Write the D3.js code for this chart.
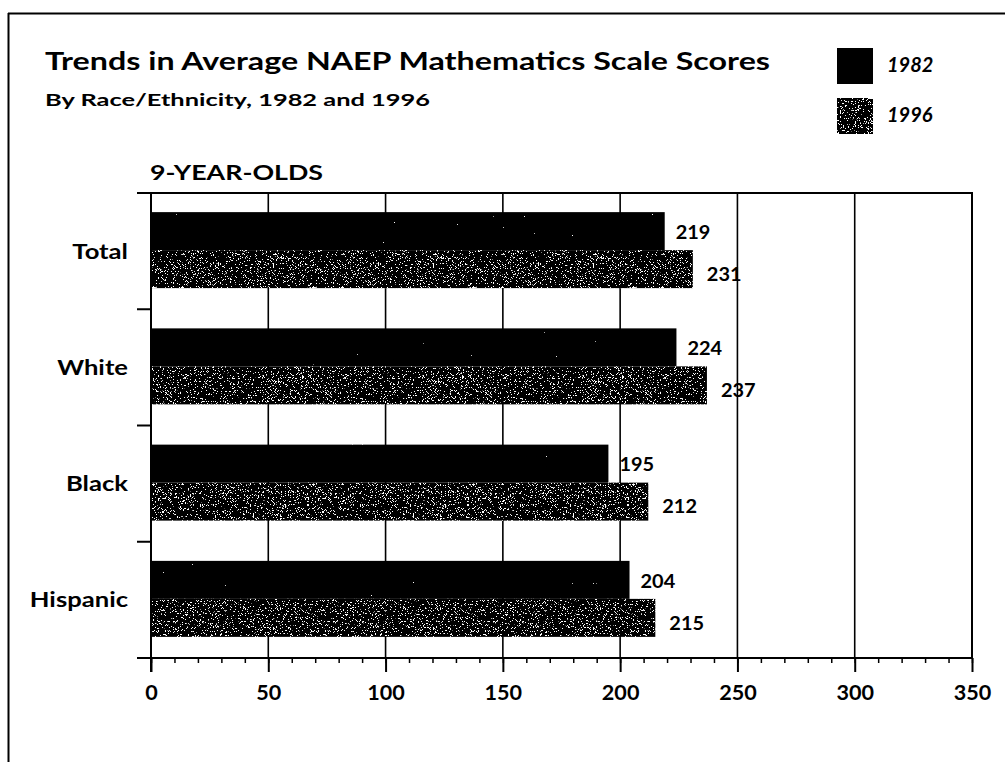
<!DOCTYPE html>
<html>
<head>
<meta charset="utf-8">
<script src="https://cdn.jsdelivr.net/npm/d3@7"></script>
<style>
  html, body { margin: 0; padding: 0; background: #fff; }
  svg { display: block; }
  text { font-family: Lato, "Open Sans", sans-serif; fill: #000; }
</style>
</head>
<body>
<svg id="chart" width="1005" height="762"></svg>
<script>
// ---- data ----
const categories = ["Total", "White", "Black", "Hispanic"];
const seriesNames = ["1982", "1996"];
const values1982 = [219, 224, 195, 204];
const values1996 = [231, 237, 212, 215];
const xTicks = [0, 50, 100, 150, 200, 250, 300, 350];
const titleText = "Trends in Average NAEP Mathematics Scale Scores";
const subtitleText = "By Race/Ethnicity, 1982 and 1996";
const panelText = "9-YEAR-OLDS";

const svg = d3.select("#chart");
const W = 1005, H = 762;
svg.append("rect").attr("width", W).attr("height", H).attr("fill", "#fff");

// ---- defs: speckle textures ----
const defs = svg.append("defs");
function speckleFilter(id, freq, seed, slope, thresh) {
  const f = defs.append("filter").attr("id", id)
    .attr("x", 0).attr("y", 0).attr("width", 1).attr("height", 1)
    .attr("filterUnits", "objectBoundingBox");
  f.append("feTurbulence").attr("type", "fractalNoise")
    .attr("baseFrequency", freq).attr("numOctaves", 2).attr("seed", seed).attr("result", "noise");
  f.append("feColorMatrix").attr("in", "noise").attr("type", "matrix")
    .attr("values", `0 0 0 0 1  0 0 0 0 1  0 0 0 0 1  ${slope} 0 0 0 ${-slope * thresh}`)
    .attr("result", "spots");
  f.append("feComposite").attr("in", "spots").attr("in2", "SourceGraphic").attr("operator", "in").attr("result", "spotsIn");
  const m = f.append("feMerge");
  m.append("feMergeNode").attr("in", "SourceGraphic");
  m.append("feMergeNode").attr("in", "spotsIn");
}
speckleFilter("speck1982", 0.9, 7, 40, 0.84);
speckleFilter("speck1996", "1.6 1.3", 3, 30, 0.63);
const seriesFilter = { "1982": "url(#speck1982)", "1996": "url(#speck1996)" };

// ---- outer frame ----
svg.append("line").attr("x1", 8).attr("x2", W).attr("y1", 13.5).attr("y2", 13.5)
  .attr("stroke", "#000").attr("stroke-width", 2);
svg.append("line").attr("x1", 8.5).attr("x2", 8.5).attr("y1", 13).attr("y2", H)
  .attr("stroke", "#000").attr("stroke-width", 2);

// ---- helpers: widen text to mimic the wider original face ----
function fitText(sel, target) {
  sel.attr("textLength", target).attr("lengthAdjust", "spacingAndGlyphs");
}
function widen(sel, factor) {
  sel.each(function () {
    const w = this.getComputedTextLength();
    d3.select(this).attr("textLength", w * factor).attr("lengthAdjust", "spacingAndGlyphs");
  });
}

// ---- titles ----
const title = svg.append("text").attr("x", 45).attr("y", 70)
  .attr("font-size", 24).attr("font-weight", 700).text(titleText);
fitText(title, 725);
const sub = svg.append("text").attr("x", 45).attr("y", 106)
  .attr("font-size", 17).attr("font-weight", 700).text(subtitleText);
fitText(sub, 385);
const panel = svg.append("text").attr("x", 150).attr("y", 180)
  .attr("font-size", 20).attr("font-weight", 700).text(panelText);
fitText(panel, 173);

// ---- legend ----
const legend = svg.append("g");
seriesNames.forEach((s, i) => {
  const ly = 48 + i * 50;
  legend.append("rect").attr("x", 837).attr("y", ly).attr("width", 36).attr("height", 36)
    .attr("fill", "#000").attr("filter", seriesFilter[s]);
  legend.append("text").attr("x", 887).attr("y", ly + 24)
    .attr("font-size", 20).attr("font-weight", 700).attr("font-style", "italic").text(s);
});

// ---- scales ----
const x = d3.scaleLinear().domain([0, 350]).range([151, 972]);
const y = d3.scaleBand().domain(categories).range([193, 658]).paddingInner(0).paddingOuter(0);
const step = y.step();
const barH = 38;

// gridlines
const g = svg.append("g");
g.selectAll("line.grid").data(xTicks.filter(t => t > 0 && t < 350)).join("line")
  .attr("x1", d => x(d)).attr("x2", d => x(d)).attr("y1", 193).attr("y2", 658)
  .attr("stroke", "#000").attr("stroke-width", 1.6);

// bars
const rows = categories.map((c, i) => ({ cat: c, vals: [values1982[i], values1996[i]] }));
rows.forEach(r => {
  const top = y(r.cat) + (step - 2 * barH) / 2 - 1;
  r.vals.forEach((v, j) => {
    g.append("rect").attr("x", x(0)).attr("y", top + j * barH)
      .attr("width", x(v) - x(0)).attr("height", barH)
      .attr("fill", "#000").attr("filter", seriesFilter[seriesNames[j]]);
    const t = g.append("text")
      .attr("x", x(v) + (j === 0 ? 11 : 14))
      .attr("y", top + j * barH + barH / 2 + (j === 0 ? 1 : 5))
      .attr("dy", "0.35em")
      .attr("font-size", 19).attr("font-weight", 700).text(v);
    widen(t, 1.05);
  });
});

// frame of plot: top, right
g.append("line").attr("x1", 137).attr("x2", x(350)).attr("y1", 193).attr("y2", 193)
  .attr("stroke", "#000").attr("stroke-width", 2);
g.append("line").attr("x1", x(350)).attr("x2", x(350)).attr("y1", 192).attr("y2", 658)
  .attr("stroke", "#000").attr("stroke-width", 2);
// left axis line
g.append("line").attr("x1", x(0)).attr("x2", x(0)).attr("y1", 192).attr("y2", 672)
  .attr("stroke", "#000").attr("stroke-width", 2);
// category boundary ticks
const bounds = categories.map(c => y(c)).concat([658]);
g.selectAll("line.ytick").data(bounds).join("line")
  .attr("x1", 137).attr("x2", x(0)).attr("y1", d => d).attr("y2", d => d)
  .attr("stroke", "#000").attr("stroke-width", 2);

// category labels via axis
const yAxis = svg.append("g").attr("transform", `translate(${x(0)},0)`)
  .call(d3.axisLeft(y).tickSize(0).tickPadding(23));
yAxis.select(".domain").remove();
yAxis.selectAll("text").attr("font-family", "Lato, sans-serif").attr("font-size", 21)
  .attr("font-weight", 700).attr("fill", "#000").attr("dy", "0.36em");
widen(yAxis.selectAll("text"), 1.22);

// x axis: minor ticks
const minorTicks = d3.range(0, 351, 10);
const xMinor = svg.append("g").attr("transform", "translate(0,658)")
  .call(d3.axisBottom(x).tickValues(minorTicks).tickSize(5).tickFormat(""));
xMinor.select(".domain").remove();
xMinor.selectAll("line").attr("stroke", "#000").attr("stroke-width", 1.5);
const xAxis = svg.append("g").attr("transform", "translate(0,658)")
  .call(d3.axisBottom(x).tickValues(xTicks).tickSize(14).tickPadding(14));
xAxis.select(".domain").remove();
xAxis.selectAll("line").attr("stroke", "#000").attr("stroke-width", 2);
xAxis.selectAll("text").attr("font-family", "Lato, sans-serif").attr("font-size", 20)
  .attr("font-weight", 700).attr("fill", "#000");
widen(xAxis.selectAll("text"), 1.08);
// bottom axis line
svg.append("line").attr("x1", 137).attr("x2", x(350)).attr("y1", 658).attr("y2", 658)
  .attr("stroke", "#000").attr("stroke-width", 2);
</script>
</body>
</html>
